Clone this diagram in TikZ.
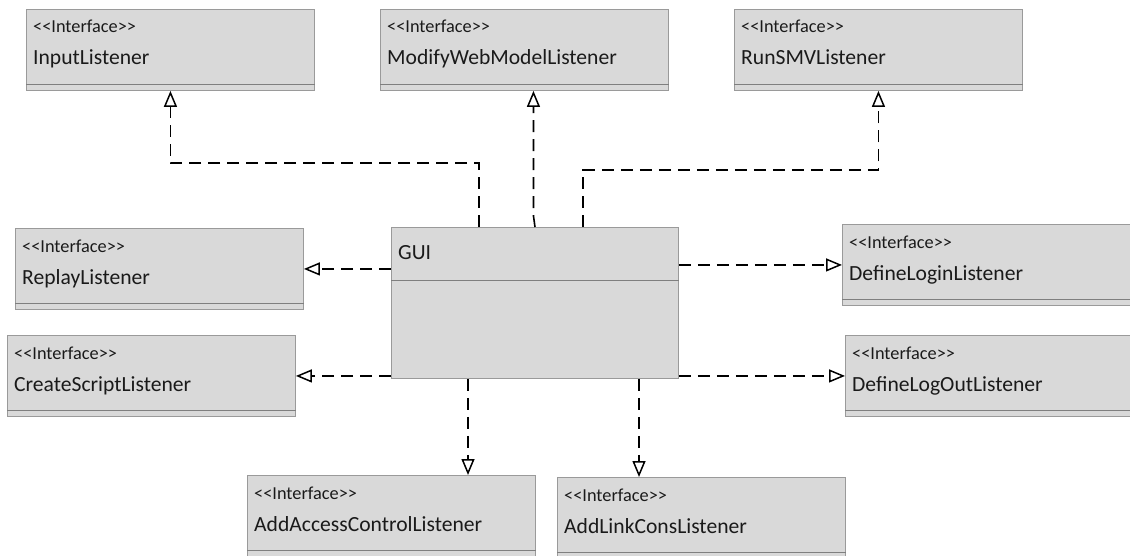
\documentclass[tikz,border=0pt]{standalone}
\usepackage{fontspec}
\setmainfont{Carlito}
\usetikzlibrary{arrows.meta,calc}

\definecolor{boxfill}{HTML}{D9D9D9}
\definecolor{boxline}{HTML}{9A9A9A}
\definecolor{sepline}{HTML}{7F7F7F}
\definecolor{inkc}{HTML}{1A1A1A}

\tikzset{
  x=1pt, y=1pt,
  classbox/.style={draw=boxline, fill=boxfill, line width=0.9pt,
    rectangle, inner sep=0pt, minimum width=288pt, minimum height=81pt},
  guibox/.style={draw=boxline, fill=boxfill, line width=0.9pt,
    rectangle, inner sep=0pt, minimum width=287pt, minimum height=151pt},
  divider/.style={draw=sepline, line width=0.9pt},
  stereotxt/.style={inner sep=0pt, text=inkc, font=\fontsize{18.3}{20}\selectfont},
  nametxt/.style={inner sep=0pt, text=inkc, font=\fontsize{21.6}{24}\selectfont},
  realize/.style={draw=black, line width=1.6pt, dash pattern=on 12pt off 7pt,
    -{Triangle[open, length=16pt, width=13pt, line width=1.5pt]}}
}

% stereotype text, kerned so "<<" stays two characters
\newcommand\ifacetag{<\kern0pt<Interface>\kern0pt>}

% interface box: node name, left x, top y, class name
\newcommand\ifacebox[4]{%
  \node[classbox, anchor=north west] (#1) at (#2,-#3) {};
  \draw[divider] ([yshift=6pt]#1.south west) -- ([yshift=6pt]#1.south east);
  \node[stereotxt, anchor=base west] (#1-st) at ([xshift=7pt,yshift=-24pt]#1.north west) {\ifacetag};
  \node[nametxt, anchor=base west] (#1-nm) at ([xshift=7pt,yshift=-56pt]#1.north west) {#4};
}

\begin{document}
\begin{tikzpicture}
\useasboundingbox (0,0) rectangle (1130,-556);

% interfaces
\ifacebox{input}{26}{9}{InputListener}
\ifacebox{modify}{380}{9}{ModifyWebModelListener}
\ifacebox{runsmv}{734}{9}{RunSMVListener}
\ifacebox{replay}{15}{228}{ReplayListener}
\ifacebox{script}{7}{335}{CreateScriptListener}
\ifacebox{login}{842}{224}{DefineLoginListener}
\ifacebox{logout}{845}{335}{DefineLogOutListener}
\ifacebox{access}{247}{475}{AddAccessControlListener}
\ifacebox{link}{557}{477}{AddLinkConsListener}

% the GUI class
\node[guibox, anchor=north west] (gui) at (391,-227) {};
\draw[divider] ([yshift=-53pt]gui.north west) -- ([yshift=-53pt]gui.north east);
\node[nametxt, anchor=base west] (gui-nm) at ([xshift=7pt,yshift=-33pt]gui.north west) {GUI};

% attachment points on the GUI outline
\coordinate (gt1) at ([xshift=88pt]gui.north west);
\coordinate (gt2) at ([xshift=144pt]gui.north west);
\coordinate (gt3) at ([xshift=192pt]gui.north west);
\coordinate (gb1) at ([xshift=77pt]gui.south west);
\coordinate (gb2) at ([xshift=248pt]gui.south west);
\coordinate (mk) at ([xshift=9pt]modify.south);

% realization connectors
\draw[realize] (gt1) |- ([yshift=-72pt]input.south) -- (input.south);
\draw[realize] (gt2) -- ([yshift=-125pt]mk) -- (mk);
\draw[realize] (gt3) |- ([yshift=-79pt]runsmv.south) -- (runsmv.south);
\draw[realize] (replay.east -| gui.west) -- (replay.east);
\draw[realize] (script.east -| gui.west) -- (script.east);
\draw[realize] (login.west -| gui.east) -- (login.west);
\draw[realize] (logout.west -| gui.east) -- (logout.west);
\draw[realize] (gb1) -- (gb1 |- access.north);
\draw[realize] (gb2) -- (gb2 |- link.north);
\end{tikzpicture}
\end{document}
